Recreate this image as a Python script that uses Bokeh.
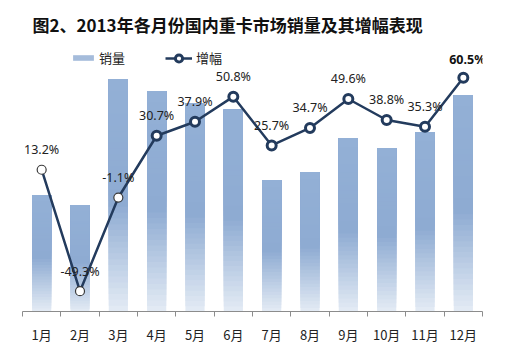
from bokeh.plotting import figure
from bokeh.models import (Range1d, LinearAxis, FixedTicker, ColumnDataSource,
                          LabelSet, Label, Legend, LegendItem)
from bokeh.core.properties import value
from bokeh.embed import file_html
from bokeh.resources import INLINE

# ---------------- data ----------------
months = ["1月", "2月", "3月", "4月", "5月", "6月",
          "7月", "8月", "9月", "10月", "11月", "12月"]
sales = [5.54, 5.06, 11.07, 10.48, 9.91, 9.60, 6.25, 6.63, 8.25, 7.77, 8.53, 10.29]  # 万辆 (estimated)
growth = [13.2, -49.3, -1.1, 30.7, 37.9, 50.8, 25.7, 34.7, 49.6, 38.8, 35.3, 60.5]   # %
growth_labels = ["%.1f%%" % g for g in growth]
title_text = "图2、2013年各月份国内重卡市场销量及其增幅表现"

# ---------------- styles ----------------
NAVY = "#233B5D"
CJK = "Noto Sans CJK SC"
NUM = "Noto Sans"
TXT = "#222222"

x = [i + 0.5 for i in range(len(months))]

p = figure(width=508, height=349, x_range=Range1d(0, len(months)), y_range=Range1d(0, 14.8),
           output_backend="svg", toolbar_location=None,
           x_axis_type=None, y_axis_type=None,
           min_border_left=22, min_border_right=26, min_border_top=0, min_border_bottom=38,
           outline_line_color=None, background_fill_color="white", border_fill_color="white")
p.extra_y_ranges = {"pct": Range1d(-59.74, 100.28)}

# ---------------- gradient bars ----------------
def hex2rgb(h):
    h = h.lstrip("#")
    return tuple(int(h[i:i + 2], 16) for i in (0, 2, 4))

stops = [(0.0, hex2rgb("#E2EAF4")), (0.45, hex2rgb("#8EABD2")), (1.0, hex2rgb("#93B0D6"))]

def grad(t):
    for (t0, c0), (t1, c1) in zip(stops[:-1], stops[1:]):
        if t <= t1:
            f = (t - t0) / (t1 - t0)
            return "#%02x%02x%02x" % tuple(int(round(a + (b - a) * f)) for a, b in zip(c0, c1))
    return "#%02x%02x%02x" % stops[-1][1]

N = 40
bx, bb, bt, bc = [], [], [], []
for xi, v in zip(x, sales):
    for k in range(N):
        t = k / N
        bx.append(xi)
        bb.append(v * t)
        bt.append(v)
        bc.append(grad(t))
r_bars = p.vbar(x="x", bottom="b", top="t", width=0.5, fill_color="c", line_color=None,
                source=ColumnDataSource(dict(x=bx, b=bb, t=bt, c=bc)))

# ---------------- line ----------------
src = ColumnDataSource(dict(x=x, g=growth,
                            lw=[1.2 if i < 3 else 3 for i in range(len(x))],
                            lc=["#3a3a3a" if i < 3 else NAVY for i in range(len(x))]))
r_line = p.line("x", "g", y_range_name="pct", source=src, line_color=NAVY, line_width=2.5)
r_pts = p.scatter("x", "g", y_range_name="pct", source=src, size=9, fill_color="white",
                  line_color="lc", line_width="lw")

# data labels
n = len(x)
src_norm = ColumnDataSource(dict(x=x[:n - 1], g=growth[:n - 1], lab=growth_labels[:n - 1]))
src_bold = ColumnDataSource(dict(x=x[n - 1:], g=growth[n - 1:], lab=growth_labels[n - 1:]))
p.add_layout(LabelSet(x="x", y="g", text="lab", source=src_norm, y_range_name="pct",
                      y_offset=20, text_align="center", text_baseline="middle",
                      text_font=value(NUM), text_font_size=value("12.5px"), text_color=TXT))
p.add_layout(LabelSet(x="x", y="g", text="lab", source=src_bold, y_range_name="pct",
                      y_offset=18, x_offset=4, text_align="center", text_baseline="middle",
                      text_font=value(NUM), text_font_size=value("12.5px"),
                      text_font_style="bold", text_color="#111111"))

# ---------------- x axis ----------------
xaxis = LinearAxis(ticker=FixedTicker(ticks=x, minor_ticks=list(range(len(months) + 1))),
                   major_label_overrides={xi: m for xi, m in zip(x, months)})
xaxis.major_tick_out = 0
xaxis.major_tick_in = 0
xaxis.minor_tick_out = 5
xaxis.minor_tick_in = 0
xaxis.axis_line_color = "#8C8C8C"
xaxis.minor_tick_line_color = "#8C8C8C"
xaxis.major_label_text_font = CJK
xaxis.major_label_text_font_size = "13px"
xaxis.major_label_text_color = TXT
xaxis.major_label_standoff = 8
p.add_layout(xaxis, "below")

# ---------------- legend ----------------
leg1 = Legend(items=[LegendItem(label="销量", renderers=[r_bars], index=13)],
              location=(48, 244), glyph_width=26, glyph_height=7, label_height=18,
              label_standoff=3, padding=0, margin=0, border_line_color=None,
              background_fill_alpha=0, label_text_font=CJK, label_text_font_size="13px",
              label_text_color=TXT)
leg2 = Legend(items=[LegendItem(label="增幅", renderers=[r_line, r_pts], index=5)],
              location=(143, 244), glyph_width=27, glyph_height=18, label_height=18,
              label_standoff=4, padding=0, margin=0, border_line_color=None,
              background_fill_alpha=0, label_text_font=CJK, label_text_font_size="13px",
              label_text_color=TXT)
p.add_layout(leg1)
p.add_layout(leg2)

# ---------------- title ----------------
p.add_layout(Label(x=10, y=311 - 24, x_units="screen", y_units="screen", text=title_text,
                   text_font=CJK, text_font_size="17px", text_font_style="bold",
                   text_color="#111111", text_baseline="middle"))

open("out.html", "w").write(file_html(p, INLINE))
